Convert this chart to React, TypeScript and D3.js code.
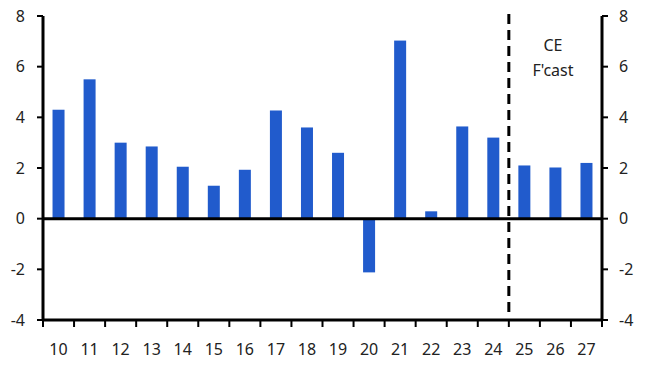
import React from "react";
import * as d3 from "d3";

const years = ["10", "11", "12", "13", "14", "15", "16", "17", "18", "19", "20", "21", "22", "23", "24", "25", "26", "27"];
const values = [4.3, 5.5, 3.0, 2.85, 2.05, 1.3, 1.93, 4.27, 3.6, 2.6, -2.12, 7.03, 0.29, 3.64, 3.2, 2.1, 2.02, 2.2];
const yTicks = [-4, -2, 0, 2, 4, 6, 8];
const forecastStart = "25";

const width = 649;
const height = 370;
const margin = { top: 16, right: 47, bottom: 50, left: 43 };

export default function App() {
  const x = d3.scaleBand().domain(years).range([margin.left, width - margin.right]).paddingInner(0).paddingOuter(0);
  const y = d3.scaleLinear().domain([-4, 8]).range([height - margin.bottom, margin.top]);
  const barW = 12;
  const font = "'Noto Sans', sans-serif";
  const x0 = margin.left;
  const x1 = width - margin.right;
  const fx = x(forecastStart)!;
  const bounds = years.map(d => x(d)!).concat([x1]);

  return (
    <svg width={width} height={height} style={{ position: "absolute", left: 0, top: 0 }} fontFamily={font}>
      {values.map((v, i) => (
        <rect key={i}
          x={x(years[i])! + x.bandwidth() / 2 - barW / 2}
          y={y(Math.max(0, v))}
          width={barW}
          height={Math.abs(y(v) - y(0))}
          fill="#215bcc" />
      ))}
      {/* zero line */}
      <line x1={x0} x2={x1} y1={y(0)} y2={y(0)} stroke="#000" strokeWidth={3} />
      {/* bottom axis */}
      <line x1={x0} x2={x1} y1={y(-4)} y2={y(-4)} stroke="#000" strokeWidth={3} />
      {bounds.map((b, i) => (
        <line key={i} x1={b} x2={b} y1={y(-4)} y2={y(-4) + 7} stroke="#000" strokeWidth={2} />
      ))}
      {years.map(d => (
        <text key={d} x={x(d)! + x.bandwidth() / 2} y={y(-4) + 35} textAnchor="middle" fontSize={16} fill="#222">{d}</text>
      ))}
      {/* left and right axes */}
      <line x1={x0} x2={x0} y1={y(8)} y2={y(-4)} stroke="#000" strokeWidth={3} />
      <line x1={x1} x2={x1} y1={y(8)} y2={y(-4)} stroke="#000" strokeWidth={3} />
      {yTicks.map(t => (
        <g key={t}>
          <line x1={x0 - 6} x2={x0} y1={y(t)} y2={y(t)} stroke="#000" strokeWidth={2} />
          <line x1={x1} x2={x1 + 6} y1={y(t)} y2={y(t)} stroke="#000" strokeWidth={2} />
          <text x={x0 - 18} y={y(t)} dy="0.35em" textAnchor="end" fontSize={16} fill="#222">{t}</text>
          <text x={x1 + 17} y={y(t)} dy="0.35em" textAnchor="start" fontSize={16} fill="#222">{t}</text>
        </g>
      ))}
      {/* forecast divider */}
      <line x1={fx} x2={fx} y1={y(8) - 2} y2={y(-4) - 8} stroke="#000" strokeWidth={3} strokeDasharray="10,6" />
      <text x={553} y={51} textAnchor="middle" fontSize={16} fill="#222">CE</text>
      <text x={553} y={76} textAnchor="middle" fontSize={16} fill="#222">F'cast</text>
    </svg>
  );
}
